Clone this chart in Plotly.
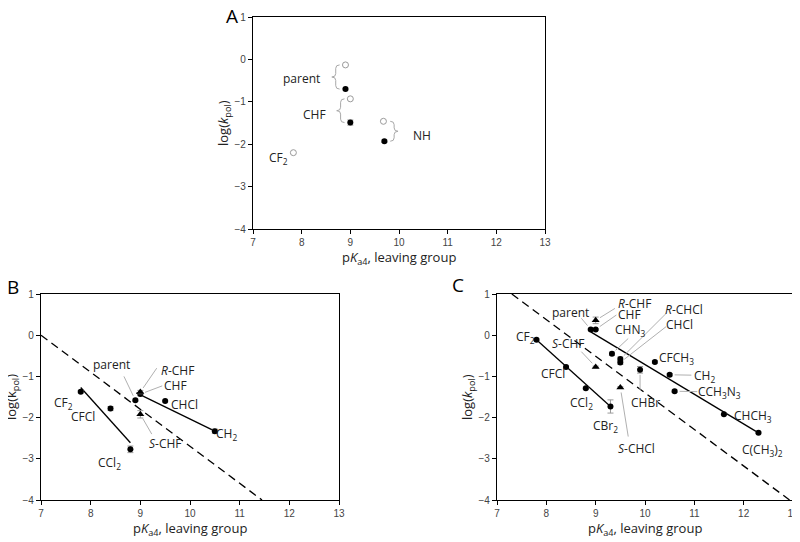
import math
import plotly.graph_objects as go

# ---- panel A: wild type (open) vs mutant (filled) ----
a_open_names = ["parent", "CHF", "NH", "CF2"]
a_open_x = [8.9, 9.0, 9.68, 7.83]
a_open_y = [-0.13, -0.93, -1.46, -2.20]
a_fill_names = ["parent", "CHF", "NH"]
a_fill_x = [8.9, 9.0, 9.7]
a_fill_y = [-0.70, -1.49, -1.93]
a_fill_err = [0.02, 0.06, 0.03]

# ---- panel B ----
b_names = ["CF2", "CFCl", "CCl2", "parent", "R-CHF", "CHF", "S-CHF", "CHCl", "CH2"]
b_x = [7.8, 8.4, 8.8, 8.9, 9.0, 9.0, 9.0, 9.5, 10.5]
b_y = [-1.37, -1.78, -2.77, -1.58, -1.38, -1.43, -1.92, -1.60, -2.33]
b_err = [0.03, 0.05, 0.08, 0.03, 0.04, 0.04, 0.09, 0.02, 0.05]
b_tri = ["R-CHF", "S-CHF"]
b_fit1_x = [7.8, 8.8]
b_fit1_y = [-1.27, -2.61]
b_fit2_x = [8.92, 10.5]
b_fit2_y = [-1.40, -2.33]
b_dash_x = [7.0, 11.45]
b_dash_y = [0.0, -4.0]

# ---- panel C ----
c_names = ["CF2", "CFCl", "CCl2", "CBr2", "parent", "CHF", "R-CHF", "S-CHF", "S-CHCl",
           "CHN3", "R-CHCl", "CHCl", "CHBr", "CFCH3", "CH2", "CCH3N3", "CHCH3", "C(CH3)2"]
c_x = [7.8, 8.4, 8.8, 9.3, 8.9, 9.0, 9.0, 9.0, 9.5,
       9.33, 9.5, 9.5, 9.9, 10.2, 10.5, 10.6, 11.6, 12.3]
c_y = [-0.11, -0.77, -1.29, -1.73, 0.14, 0.14, 0.36, -0.77, -1.27,
       -0.45, -0.58, -0.66, -0.84, -0.65, -0.96, -1.36, -1.92, -2.37]
c_err = [0.02, 0.02, 0.03, 0.16, 0.02, 0.02, 0.08, 0.02, 0.02,
         0.04, 0.05, 0.05, 0.08, 0.03, 0.03, 0.03, 0.02, 0.02]
c_tri = ["R-CHF", "S-CHF", "S-CHCl"]
c_fit1_x = [7.8, 9.3]
c_fit1_y = [-0.11, -1.73]
c_fit2_x = [8.9, 12.3]
c_fit2_y = [0.08, -2.37]
c_dash_x = [7.3, 12.93]
c_dash_y = [1.0, -4.0]

LABEL = {
    "CF2": "CF<sub>2</sub>", "CCl2": "CCl<sub>2</sub>", "CBr2": "CBr<sub>2</sub>",
    "CH2": "CH<sub>2</sub>", "CHN3": "CHN<sub>3</sub>", "CFCH3": "CFCH<sub>3</sub>",
    "CCH3N3": "CCH<sub>3</sub>N<sub>3</sub>", "CHCH3": "CHCH<sub>3</sub>",
    "C(CH3)2": "C(CH<sub>3</sub>)<sub>2</sub>",
    "R-CHF": "<i>R</i>-CHF", "S-CHF": "<i>S</i>-CHF",
    "R-CHCl": "<i>R</i>-CHCl", "S-CHCl": "<i>S</i>-CHCl",
}

FONT = "Open Sans"
GRAY = "#9a9a9a"
PX_X, PX_Y = 49.5, 41.2  # approx px per data unit, for leader gaps
W, H, OFF = 800, 542, 8   # page body margin shifts the figure by 8px


def px_x(px):
    return (px - OFF) / W


def px_y(py):
    return 1 - (py - OFF) / H


def label(fig, n, name, x, y):
    fig.add_annotation(xref=f"x{n}", yref=f"y{n}", x=x, y=y, text=LABEL.get(name, name),
                       showarrow=False, xanchor="center", yanchor="middle",
                       font=dict(family=FONT, size=12, color="#222"))


def leader(fig, n, x0, y0, px, py, gap=5):
    # gray line from the label end (x0,y0) towards the point, stopping short of it
    d = math.hypot((x0 - px) * PX_X, (y0 - py) * PX_Y)
    x1 = px + (x0 - px) * gap / d
    y1 = py + (y0 - py) * gap / d
    fig.add_shape(type="line", xref=f"x{n}", yref=f"y{n}", x0=x0, y0=y0, x1=x1, y1=y1,
                  line=dict(color="#b0b0b0", width=1))


def brace(fig, x, ytop, ybot, side):
    # curly bracket next to a pair of points; side=-1 left of the points, +1 right
    tip, spine, nose = x + side * 0.12, x + side * 0.20, x + side * 0.28
    ym = (ytop + ybot) / 2
    r = 0.08
    path = (f"M {tip},{ytop} Q {spine},{ytop} {spine},{ytop - r} L {spine},{ym + r} "
            f"Q {spine},{ym} {nose},{ym} Q {spine},{ym} {spine},{ym - r} "
            f"L {spine},{ybot + r} Q {spine},{ybot} {tip},{ybot}")
    fig.add_shape(type="path", xref="x", yref="y", path=path,
                  line=dict(color="#a8a8a8", width=1))


def points(fig, n, names, xs, ys, errs, tri):
    for shape in ["circle", "triangle-up"]:
        idx = [i for i, nm in enumerate(names) if (nm in tri) == (shape != "circle")]
        fig.add_trace(go.Scatter(
            x=[xs[i] for i in idx], y=[ys[i] for i in idx],
            error_y=dict(type="data", array=[errs[i] for i in idx], color=GRAY,
                         thickness=1, width=3),
            mode="markers", marker=dict(symbol=shape, color="black",
                                        size=6 if shape == "circle" else 7),
            xaxis=f"x{n}", yaxis=f"y{n}", showlegend=False))


def line(fig, n, xs, ys, dash="solid"):
    fig.add_trace(go.Scatter(x=xs, y=ys, mode="lines", xaxis=f"x{n}", yaxis=f"y{n}",
                             line=dict(color="black", width=1.3, dash=dash),
                             showlegend=False))


fig = go.Figure()

# panel A
fig.add_trace(go.Scatter(x=a_open_x, y=a_open_y, mode="markers", showlegend=False,
                         marker=dict(symbol="circle-open", color=GRAY, size=6,
                                     line=dict(width=1))))
fig.add_trace(go.Scatter(x=a_fill_x, y=a_fill_y, mode="markers", showlegend=False,
                         error_y=dict(type="data", array=a_fill_err, color=GRAY,
                                      thickness=1, width=3),
                         marker=dict(symbol="circle", color="black", size=6)))
for i, side in zip(range(3), [-1, -1, 1]):
    brace(fig, a_fill_x[i], a_open_y[i], a_fill_y[i], side)
for name, x, y in [("parent", 8.0, -0.44), ("CHF", 8.27, -1.31),
                   ("NH", 10.48, -1.8), ("CF2", 7.52, -2.33)]:
    label(fig, "", name, x, y)

# panel B
line(fig, 2, b_dash_x, b_dash_y, dash="8px,5px")
line(fig, 2, b_fit1_x, b_fit1_y)
line(fig, 2, b_fit2_x, b_fit2_y)
points(fig, 2, b_names, b_x, b_y, b_err, b_tri)
b_labels = {
    "parent": (8.42, -0.70, (8.67, -1.0)),
    "R-CHF": (9.75, -0.86, (9.33, -0.80)),
    "CHF": (9.70, -1.23, (9.44, -1.23)),
    "CHCl": (9.89, -1.69, None),
    "CH2": (10.74, -2.40, None),
    "S-CHF": (9.50, -2.62, (9.23, -2.40)),
    "CF2": (7.45, -1.65, None),
    "CFCl": (7.84, -1.98, None),
    "CCl2": (8.38, -3.09, None),
}
for name, (lx, ly, lead) in b_labels.items():
    label(fig, 2, name, lx, ly)
    if lead:
        i = b_names.index(name)
        leader(fig, 2, lead[0], lead[1], b_x[i], b_y[i])

# panel C
line(fig, 3, c_dash_x, c_dash_y, dash="8px,5px")
line(fig, 3, c_fit1_x, c_fit1_y)
line(fig, 3, c_fit2_x, c_fit2_y)
points(fig, 3, c_names, c_x, c_y, c_err, c_tri)
c_labels = {
    "parent": (8.49, 0.56, (8.71, 0.41)),
    "R-CHF": (9.79, 0.76, (9.39, 0.65)),
    "CHF": (9.69, 0.51, (9.42, 0.49)),
    "CHN3": (9.69, 0.13, (9.66, -0.08)),
    "R-CHCl": (10.80, 0.63, (10.43, 0.53)),
    "CHCl": (10.70, 0.27, (10.43, 0.21)),
    "CF2": (7.57, -0.05, None),
    "S-CHF": (8.44, -0.20, (8.71, -0.40)),
    "CFCl": (8.14, -0.93, None),
    "CCl2": (8.71, -1.64, None),
    "CBr2": (9.20, -2.20, None),
    "S-CHCl": (9.83, -2.75, (9.66, -2.46)),
    "CHBr": (10.0, -1.63, (9.90, -1.33)),
    "CFCH3": (10.63, -0.56, None),
    "CH2": (11.20, -1.0, (10.94, -0.97)),
    "CCH3N3": (11.52, -1.37, (11.06, -1.37)),
    "CHCH3": (12.18, -1.96, None),
    "C(CH3)2": (12.39, -2.79, None),
}
for name, (lx, ly, lead) in c_labels.items():
    label(fig, 3, name, lx, ly)
    if lead:
        i = c_names.index(name)
        leader(fig, 3, lead[0], lead[1], c_x[i], c_y[i])

# axes, positioned from screen pixels
boxes = {"": (253, 545, 17, 229), "2": (41, 339, 294, 500), "3": (497, 793, 294, 500)}
axis_style = dict(showline=True, linecolor="black", linewidth=1.2, mirror=True,
                  ticks="outside", ticklen=4, tickcolor="black", showgrid=False,
                  zeroline=False, automargin=False,
                  tickfont=dict(family="Liberation Sans", size=10, color="#444"))
layout = {}
for n, (l, r, t, b) in boxes.items():
    layout[f"xaxis{n}"] = dict(domain=[px_x(l), px_x(r)], range=[7, 13], dtick=1,
                               anchor=f"y{n}", **axis_style)
    layout[f"yaxis{n}"] = dict(domain=[px_y(b), px_y(t)], range=[-4, 1], dtick=1,
                               anchor=f"x{n}", **axis_style)
fig.update_layout(**layout)

# axis titles and panel letters
for n, ktxt in [("", "<i>k</i>"), ("2", "k"), ("3", "<i>k</i>")]:
    fig.add_annotation(xref=f"x{n} domain", yref=f"y{n} domain", x=0, y=0.5, xshift=-29,
                       xanchor="center", yanchor="middle",
                       text=f"log({ktxt}<sub>pol</sub>)", textangle=-90, showarrow=False,
                       font=dict(family=FONT, size=13, color="#222"))
    fig.add_annotation(xref=f"x{n} domain", yref=f"y{n} domain", x=0.5, y=0, yshift=-29,
                       xanchor="center", yanchor="middle",
                       text="p<i>K</i><sub>a4</sub>, leaving group", showarrow=False,
                       font=dict(family=FONT, size=13, color="#222"))
for txt, x, y in [("A", 232, 16), ("B", 13, 287), ("C", 458, 285)]:
    fig.add_annotation(xref="paper", yref="paper", x=px_x(x), y=px_y(y), text=txt,
                       xanchor="center", yanchor="middle", showarrow=False,
                       font=dict(family=FONT, size=19, color="black"))

fig.update_layout(template="none", width=W, height=H,
                  margin=dict(l=0, r=0, t=0, b=0, autoexpand=False),
                  plot_bgcolor="white", paper_bgcolor="white", showlegend=False)

fig.write_html("out.html")
